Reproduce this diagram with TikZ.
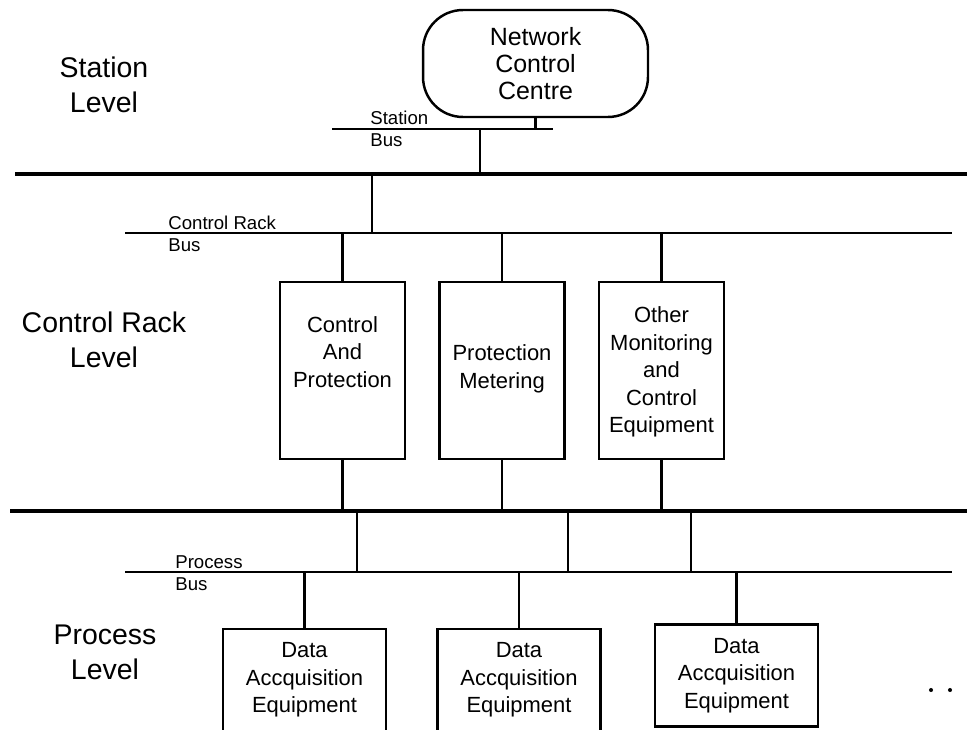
\documentclass[tikz,border=0pt]{standalone}
\usepackage{fontspec}
\setmainfont{Liberation Sans}
\usetikzlibrary{positioning}
\tikzset{
  lvl/.style    = {align=center, font=\fontsize{16.2pt}{19.9pt}\selectfont},
  buslbl/.style = {align=left, anchor=west, inner sep=0pt,
                   font=\fontsize{10.6pt}{12.5pt}\selectfont},
  ncc/.style    = {draw, line width=1.4pt, rounded corners=0.8cm, align=center,
                   minimum width=4.5cm, minimum height=2.14cm,
                   font=\fontsize{14.2pt}{15.4pt}\selectfont},
  rack/.style   = {draw, line width=1.5pt, minimum width=2.5cm, minimum height=3.54cm},
  daq/.style    = {draw, line width=1.5pt, align=center, minimum width=3.26cm,
                   minimum height=2.04cm, font=\fontsize{12.5pt}{15.6pt}\selectfont},
  boxtxt/.style = {align=center, font=\fontsize{12.5pt}{15.6pt}\selectfont},
  trunk/.style  = {line width=2.8pt},
  bus/.style    = {line width=1.1pt},
  drop/.style   = {line width=1.5pt},
  dot/.style    = {circle, fill, inner sep=0pt, minimum size=2.3pt},
}
\begin{document}
\begin{tikzpicture}[x=0.02cm, y=-0.02cm]
  \useasboundingbox (0,0) rectangle (967,730);
  % level labels
  \node[lvl] (stlvl) at (104,85) {Station\\Level};
  \node[lvl] (crlvl) at (104,340) {Control Rack\\Level};
  \node[lvl] (prlvl) at (105,652) {Process\\Level};
  % bus end points
  \coordinate (sb-w) at (332,129);  \coordinate (sb-e) at (553,129);
  \coordinate (t1-w) at (15,174);   \coordinate (t1-e) at (967,174);
  \coordinate (cb-w) at (125,233);  \coordinate (cb-e) at (952,233);
  \coordinate (t2-w) at (10,511);   \coordinate (t2-e) at (967,511);
  \coordinate (pb-w) at (125,572);  \coordinate (pb-e) at (952,572);
  \draw[bus]   (sb-w) -- (sb-e);
  \draw[trunk] (t1-w) -- (t1-e);
  \draw[bus]   (cb-w) -- (cb-e);
  \draw[trunk] (t2-w) -- (t2-e);
  \draw[bus]   (pb-w) -- (pb-e);
  \node[buslbl] (sblbl) at (370,129) {Station\\Bus};
  \node[buslbl] (cblbl) at (168,234) {Control Rack\\Bus};
  \node[buslbl] (pblbl) at (175,573) {Process\\Bus};
  % station level
  \node[ncc] (ncc) at (535.5,63.5) {Network\\Control\\Centre};
  \draw[drop] (ncc.south) -- (ncc.south |- sb-w);
  \coordinate (sb-t) at (480,129);
  \draw[drop] (sb-t) -- (sb-t |- t1-w);
  \coordinate (cb-t) at (372,174);
  \draw[drop] (cb-t) -- (cb-t |- cb-w);
  % control rack level
  \node[rack] (cap) at (342.5,370.5) {};
  \node[rack] (pm)  at (502,370.5) {};
  \node[rack] (omc) at (661.5,370.5) {};
  \node[boxtxt] (captxt) at (342.5,352) {Control\\And\\Protection};
  \node[boxtxt] (pmtxt)  at (502,369) {Protection\\Metering};
  \node[boxtxt] (omctxt) at (661.5,372) {Other\\Monitoring\\and\\Control\\Equipment};
  \foreach \n in {cap,pm,omc} {
    \draw[drop] (\n.north) -- (\n.north |- cb-w);
    \draw[drop] (\n.south) -- (\n.south |- t2-w);
  }
  \foreach \x [count=\i] in {357,568,691} {
    \coordinate (pt\i) at (\x,511);
    \draw[drop] (pt\i) -- (pt\i |- pb-w);
  }
  % process level
  \node[daq] (daq1) at (304.5,680) {Data\\Accquisition\\Equipment};
  \node[daq] (daq2) at (519,680) {Data\\Accquisition\\Equipment};
  \node[daq] (daq3) at (736.5,675.5) {Data\\Accquisition\\Equipment};
  \foreach \n in {daq1,daq2,daq3}
    \draw[drop] (\n.north) -- (\n.north |- pb-w);
  \node[dot] (dot1) at (931,690) {};
  \node[dot] (dot2) at (950,690) {};
\end{tikzpicture}
\end{document}
